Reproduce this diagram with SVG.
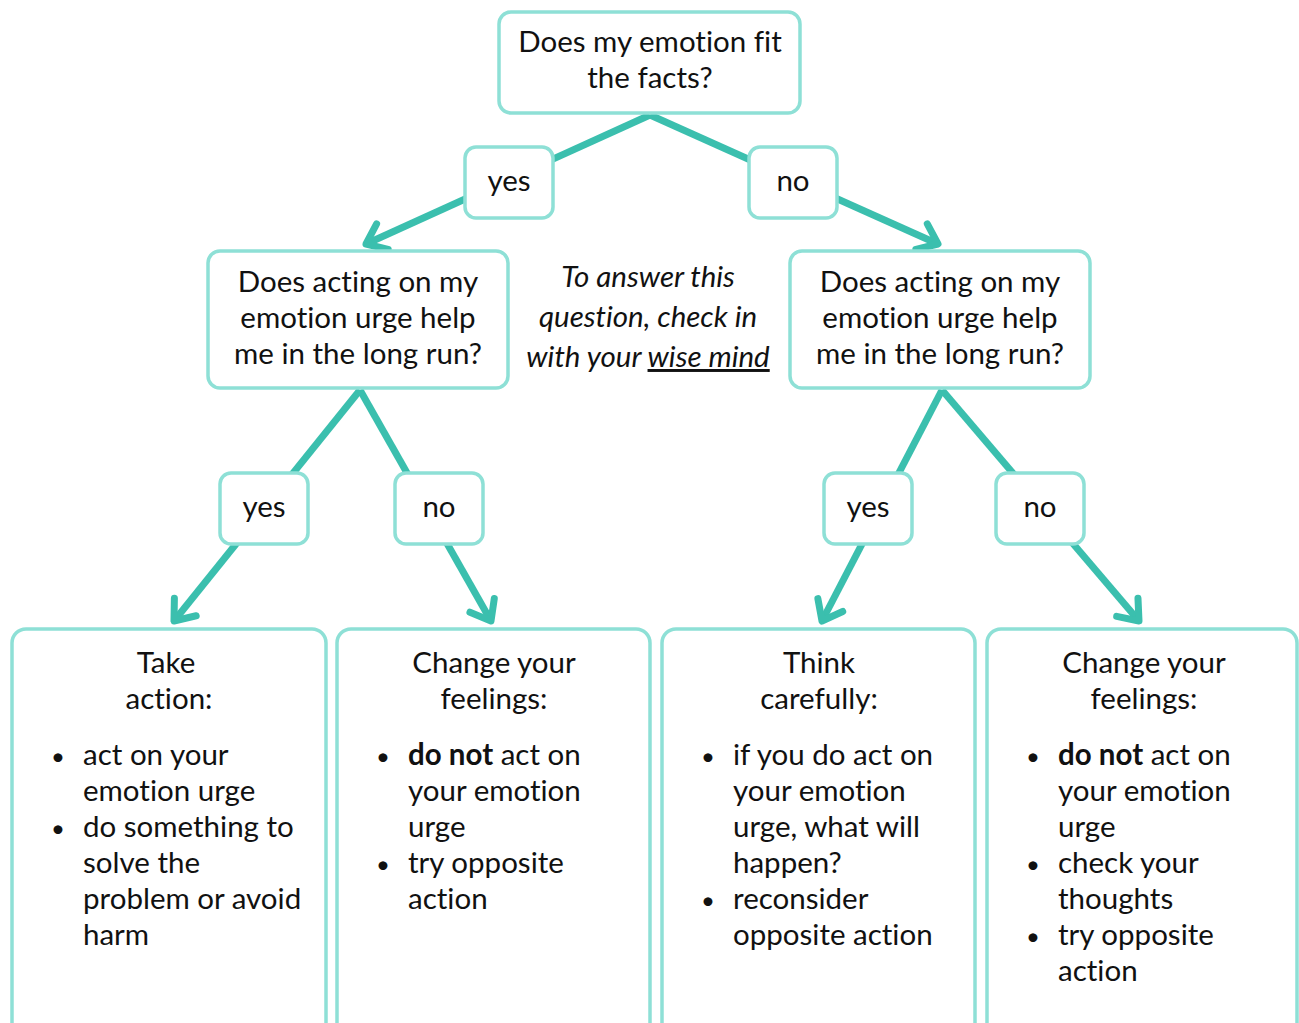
<svg xmlns="http://www.w3.org/2000/svg" width="1299" height="1023" viewBox="0 0 1299 1023">
<style>
.box{fill:#fff;stroke:#8EE0D6;stroke-width:3.5}
.t{font-family:Lato,"Liberation Sans",sans-serif;font-size:29.5px;fill:#111;font-variant-ligatures:none}
.b{font-family:Lato,"Liberation Sans",sans-serif;font-size:24px;fill:#111}
.c{text-anchor:middle}
.i{font-style:italic}
.conn{stroke:#3BBFAE;stroke-width:7;fill:none;stroke-linecap:butt}
</style>
<defs>
<marker id="ah" markerUnits="userSpaceOnUse" viewBox="-30 -20 40 40" markerWidth="40" markerHeight="40" refX="0" refY="0" orient="auto" overflow="visible">
<path d="M-18,-14 L0,0 L-18,14" fill="none" stroke="#3BBFAE" stroke-width="7" stroke-linecap="round" stroke-linejoin="round"/>
</marker>
</defs>
<g id="connectors">
<line class="conn" x1="650" y1="115" x2="366" y2="244" marker-end="url(#ah)"/>
<line class="conn" x1="650" y1="115" x2="938" y2="244" marker-end="url(#ah)"/>
<line class="conn" x1="360" y1="390" x2="174" y2="621" marker-end="url(#ah)"/>
<line class="conn" x1="360" y1="390" x2="491" y2="621" marker-end="url(#ah)"/>
<line class="conn" x1="942" y1="390" x2="822" y2="621" marker-end="url(#ah)"/>
<line class="conn" x1="942" y1="390" x2="1139" y2="621" marker-end="url(#ah)"/>
</g>
<g id="q1">
<rect class="box" x="499" y="12" width="301" height="101" rx="12"/>
<text class="t c" x="650" y="52">Does my emotion fit</text>
<text class="t c" x="650" y="88">the facts?</text>
</g>
<g id="yes1"><rect class="box" x="465" y="147" width="88" height="71" rx="11"/><text class="t c" x="509" y="191">yes</text></g>
<g id="no1"><rect class="box" x="749" y="147" width="88" height="71" rx="11"/><text class="t c" x="793" y="191">no</text></g>
<g id="q2left">
<rect class="box" x="208" y="251" width="300" height="137" rx="12"/>
<text class="t c" x="358" y="292">Does acting on my</text>
<text class="t c" x="358" y="328">emotion urge help</text>
<text class="t c" x="358" y="364">me in the long run?</text>
</g>
<g id="q2right">
<rect class="box" x="790" y="251" width="300" height="137" rx="12"/>
<text class="t c" x="940" y="292">Does acting on my</text>
<text class="t c" x="940" y="328">emotion urge help</text>
<text class="t c" x="940" y="364">me in the long run?</text>
</g>
<g id="note">
<text class="t c i" x="648" y="287">To answer this</text>
<text class="t c i" x="648" y="327">question, check in</text>
<text class="t c i" x="648" y="367">with your <tspan text-decoration="underline">wise mind</tspan></text>
</g>
<g id="yes2"><rect class="box" x="220" y="473" width="88" height="71" rx="11"/><text class="t c" x="264" y="517">yes</text></g>
<g id="no2"><rect class="box" x="395" y="473" width="88" height="71" rx="11"/><text class="t c" x="439" y="517">no</text></g>
<g id="yes3"><rect class="box" x="824" y="473" width="88" height="71" rx="11"/><text class="t c" x="868" y="517">yes</text></g>
<g id="no3"><rect class="box" x="996" y="473" width="88" height="71" rx="11"/><text class="t c" x="1040" y="517">no</text></g>
<g id="r1">
<rect class="box" x="12" y="629" width="314" height="410" rx="14"/>
<text class="t c" x="166" y="673">Take</text>
<text class="t c" x="169" y="709">action:</text>
<text class="b" x="51" y="765">•</text><text class="t" x="83" y="765">act on your</text>
<text class="t" x="83" y="801">emotion urge</text>
<text class="b" x="51" y="837">•</text><text class="t" x="83" y="837">do something to</text>
<text class="t" x="83" y="873">solve the</text>
<text class="t" x="83" y="909">problem or avoid</text>
<text class="t" x="83" y="945">harm</text>
</g>
<g id="r2">
<rect class="box" x="337" y="629" width="313" height="410" rx="14"/>
<text class="t c" x="494" y="673">Change your</text>
<text class="t c" x="494" y="709">feelings:</text>
<text class="b" x="376" y="765">•</text><text class="t" x="408" y="765"><tspan font-weight="bold">do not</tspan> act on</text>
<text class="t" x="408" y="801">your emotion</text>
<text class="t" x="408" y="837">urge</text>
<text class="b" x="376" y="873">•</text><text class="t" x="408" y="873">try opposite</text>
<text class="t" x="408" y="909">action</text>
</g>
<g id="r3">
<rect class="box" x="662" y="629" width="313" height="410" rx="14"/>
<text class="t c" x="819" y="673">Think</text>
<text class="t c" x="819" y="709">carefully:</text>
<text class="b" x="701" y="765">•</text><text class="t" x="733" y="765">if you do act on</text>
<text class="t" x="733" y="801">your emotion</text>
<text class="t" x="733" y="837">urge, what will</text>
<text class="t" x="733" y="873">happen?</text>
<text class="b" x="701" y="909">•</text><text class="t" x="733" y="909">reconsider</text>
<text class="t" x="733" y="945">opposite action</text>
</g>
<g id="r4">
<rect class="box" x="987" y="629" width="310" height="410" rx="14"/>
<text class="t c" x="1144" y="673">Change your</text>
<text class="t c" x="1144" y="709">feelings:</text>
<text class="b" x="1026" y="765">•</text><text class="t" x="1058" y="765"><tspan font-weight="bold">do not</tspan> act on</text>
<text class="t" x="1058" y="801">your emotion</text>
<text class="t" x="1058" y="837">urge</text>
<text class="b" x="1026" y="873">•</text><text class="t" x="1058" y="873">check your</text>
<text class="t" x="1058" y="909">thoughts</text>
<text class="b" x="1026" y="945">•</text><text class="t" x="1058" y="945">try opposite</text>
<text class="t" x="1058" y="981">action</text>
</g>
</svg>
